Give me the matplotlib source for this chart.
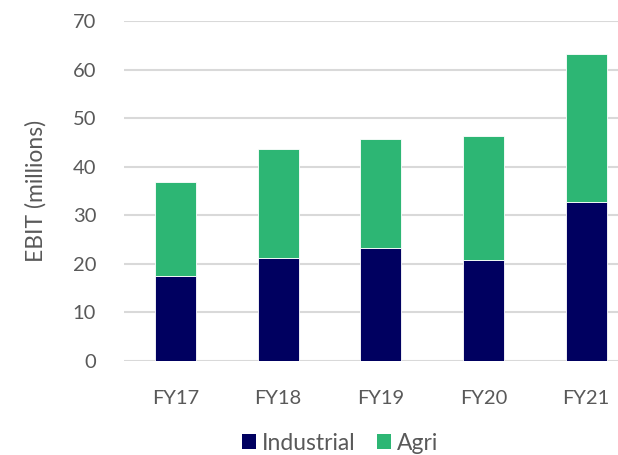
import matplotlib
matplotlib.use("Agg")
import matplotlib.pyplot as plt
from matplotlib.patches import Patch

categories = ["FY17", "FY18", "FY19", "FY20", "FY21"]
industrial = [17.5, 21.2, 23.3, 20.8, 32.7]
agri = [19.4, 22.4, 22.4, 25.4, 30.4]
yticks = [0, 10, 20, 30, 40, 50, 60, 70]

navy = "#000060"
green = "#2DB674"
grey = "#595959"

plt.rcParams['font.family'] = ['Lato', 'DejaVu Sans']

W, H = 618, 455
fig = plt.figure(figsize=(W / 100, H / 100), dpi=100)
left, right = 124 / W, 637.5 / W
bottom, top = (H - 360.7) / H, (H - 21) / H
ax = fig.add_axes([left, bottom, right - left, top - bottom])

x = list(range(len(categories)))
ax.bar(x, industrial, width=0.4, color=navy, edgecolor="white", linewidth=0.6, zorder=3)
ax.bar(x, agri, width=0.4, bottom=industrial, color=green, edgecolor="white", linewidth=0.6, zorder=3)

ax.set_xlim(-0.5, len(categories) - 0.5)
ax.set_ylim(0, 70)
ax.set_yticks(yticks)
ax.set_xticks(x)
ax.set_xticklabels(categories)
ax.grid(axis="y", color="#D9D9D9", linewidth=1.5, zorder=0)
for s in ax.spines.values():
    s.set_visible(False)
ax.tick_params(axis="both", length=0, labelsize=14.5, labelcolor=grey)
ax.tick_params(axis="y", pad=20)
ax.tick_params(axis="x", pad=21)
ax.set_ylabel("EBIT (millions)", fontsize=16.5, color=grey)
ax.yaxis.set_label_coords((47 - 124) / (637.5 - 124), 0.5)

handles = [Patch(facecolor=navy, label="Industrial"), Patch(facecolor=green, label="Agri")]
fig.legend(handles=handles, loc="center", bbox_to_anchor=(340 / W, 1 - 443 / H), ncol=2,
           frameon=False, fontsize=16.5, labelcolor=grey, handlelength=0.6, handleheight=0.6,
           handletextpad=0.25, columnspacing=0.95)

fig.savefig("out.png", dpi=100)
